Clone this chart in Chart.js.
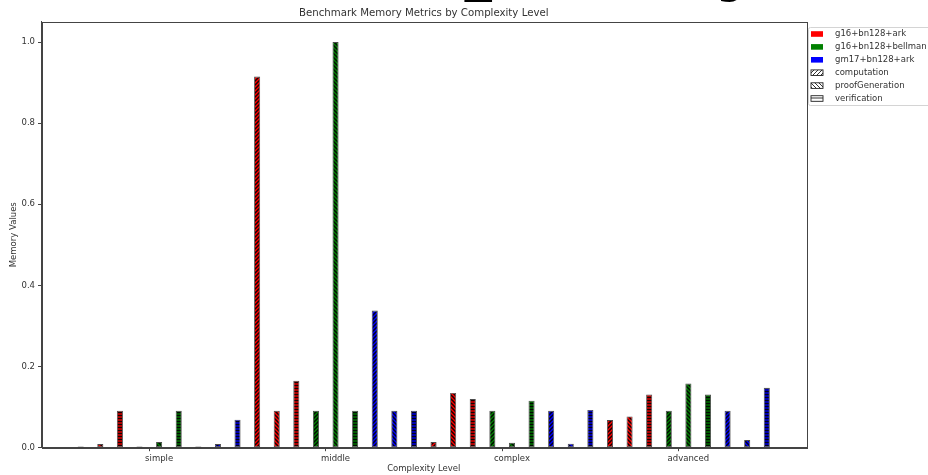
<!DOCTYPE html>
<html>
<head>
<meta charset="utf-8">
<title>Benchmark Memory Metrics by Complexity Level</title>
<script src="https://cdn.jsdelivr.net/npm/chart.js@4.4.1/dist/chart.umd.min.js"></script>
<style>
  html, body { margin: 0; padding: 0; width: 928px; height: 475px; overflow: hidden; background: #fff; }
  #wrap { position: relative; width: 928px; height: 475px; }
  #heading {
    position: absolute; left: 243px; top: -110px; margin: 0;
    font-family: "Liberation Serif", "DejaVu Serif", serif; font-weight: bold;
    font-size: 107px; line-height: 1; color: #000; white-space: nowrap; z-index: 2;
  }
  #chart { position: absolute; left: 0; top: 0; }
</style>
</head>
<body>
<div id="wrap">
  <h1 id="heading">Complexity</h1>
  <canvas id="chart" width="928" height="475"></canvas>
</div>
<script>
// Complexity levels shown along the x axis
const levels = ['simple', 'middle', 'complex', 'advanced'];
// Proving setups (colour) and measured phases (hatch)
const frameworks = ['g16+bn128+ark', 'g16+bn128+bellman', 'gm17+bn128+ark'];
const metrics = ['computation', 'proofGeneration', 'verification'];

// Normalised memory values per setup and phase, one entry per level
const arkComputation         = [0.003, 0.915, 0.014, 0.068];
const arkProofGeneration     = [0.009, 0.091, 0.135, 0.077];
const arkVerification        = [0.091, 0.165, 0.120, 0.131];
const bellmanComputation     = [0.003, 0.091, 0.091, 0.091];
const bellmanProofGeneration = [0.014, 1.000, 0.012, 0.158];
const bellmanVerification    = [0.091, 0.091, 0.116, 0.131];
const gm17Computation        = [0.003, 0.338, 0.091, 0.091];
const gm17ProofGeneration    = [0.009, 0.091, 0.010, 0.019];
const gm17Verification       = [0.069, 0.091, 0.093, 0.148];

// Y axis tick values
const yTicks = [0.0, 0.2, 0.4, 0.6, 0.8, 1.0];

const series = [
  { fw: 0, m: 0, values: arkComputation },
  { fw: 0, m: 1, values: arkProofGeneration },
  { fw: 0, m: 2, values: arkVerification },
  { fw: 1, m: 0, values: bellmanComputation },
  { fw: 1, m: 1, values: bellmanProofGeneration },
  { fw: 1, m: 2, values: bellmanVerification },
  { fw: 2, m: 0, values: gm17Computation },
  { fw: 2, m: 1, values: gm17ProofGeneration },
  { fw: 2, m: 2, values: gm17Verification }
];

const fwColors = ['#ff0000', '#008000', '#0000ff'];
const hatchKinds = ['/', '\\', '-'];

// One slot per bar, with two empty slots of margin on each side
const EDGE = 2;
const PER_LEVEL = series.length;
const slotCount = EDGE * 2 + levels.length * PER_LEVEL;
const slotLabels = new Array(slotCount).fill('');
const centerSlots = new Set();
levels.forEach((name, g) => {
  const idx = EDGE + g * PER_LEVEL + Math.floor(PER_LEVEL / 2);
  slotLabels[idx] = name;
  centerSlots.add(idx);
});

function makeHatch(base, kind, s, ink, width) {
  const c = document.createElement('canvas');
  c.width = s; c.height = s;
  const g = c.getContext('2d');
  g.fillStyle = base;
  g.fillRect(0, 0, s, s);
  g.strokeStyle = ink;
  g.lineWidth = width;
  g.beginPath();
  if (kind === '/') {
    g.moveTo(0, s); g.lineTo(s, 0);
    g.moveTo(-1, 1); g.lineTo(1, -1);
    g.moveTo(s - 1, s + 1); g.lineTo(s + 1, s - 1);
  } else if (kind === '\\') {
    g.moveTo(0, 0); g.lineTo(s, s);
    g.moveTo(s - 1, -1); g.lineTo(s + 1, 1);
    g.moveTo(-1, s - 1); g.lineTo(1, s + 1);
  } else {
    g.moveTo(0, s / 2); g.lineTo(s, s / 2);
  }
  g.stroke();
  return g.createPattern(c, 'repeat');
}

const datasets = series.map((s) => {
  const data = new Array(slotCount).fill(null);
  s.values.forEach((v, g) => { data[EDGE + g * PER_LEVEL + s.fw * 3 + s.m] = v; });
  const flat = s.m === 2;
  return {
    label: frameworks[s.fw] + ' ' + metrics[s.m],
    data,
    backgroundColor: makeHatch(fwColors[s.fw], hatchKinds[s.m], flat ? 3 : 4,
                               'rgba(0,0,0,0.9)', flat ? 1.7 : 1.5),
    borderColor: 'rgba(15,15,15,0.75)',
    borderWidth: 0.9,
    borderSkipped: false,
    barPercentage: 0.31,
    categoryPercentage: 1.0
  };
});

const TEXT = '#333';
const AXIS = '#444';
const FONT = '"DejaVu Sans", "Liberation Sans", sans-serif';

// Top and right spines around the plot area
const framePlugin = {
  id: 'frame',
  afterDatasetsDraw(chart) {
    const { ctx, chartArea: a } = chart;
    ctx.save();
    ctx.strokeStyle = AXIS;
    ctx.lineWidth = 1;
    ctx.strokeRect(Math.round(a.left) + 0.5, Math.round(a.top) + 0.5,
                   Math.round(a.right - a.left), Math.round(a.bottom - a.top));
    ctx.restore();
  }
};

// Legend at the right: colour swatches for setups, hatch swatches for phases
const sideLegendPlugin = {
  id: 'sideLegend',
  afterDraw(chart) {
    const ctx = chart.ctx;
    const x0 = 808, y0 = 27, rowH = 12.9;
    ctx.save();
    ctx.fillStyle = 'rgba(255,255,255,0.85)';
    ctx.strokeStyle = '#d4d4d4';
    ctx.lineWidth = 1;
    ctx.beginPath();
    ctx.roundRect(x0 + 0.5, y0 + 0.5, 140, 78, 2);
    ctx.fill();
    ctx.stroke();
    ctx.font = '8.5px ' + FONT;
    ctx.textBaseline = 'middle';
    const entries = [];
    frameworks.forEach((f, i) => entries.push({ text: f, fill: fwColors[i], solid: true }));
    metrics.forEach((m, i) => entries.push({
      text: m, fill: makeHatch('#ffffff', hatchKinds[i], 4, 'rgba(0,0,0,0.8)', 1), solid: false
    }));
    entries.forEach((e, i) => {
      const cy = y0 + 7 + i * rowH;
      ctx.fillStyle = e.fill;
      ctx.fillRect(811, cy - 2.8, 12, 5.6);
      if (!e.solid) {
        ctx.strokeStyle = '#222';
        ctx.lineWidth = 0.9;
        ctx.strokeRect(811, cy - 2.8, 12, 5.6);
      }
      ctx.fillStyle = TEXT;
      ctx.fillText(e.text, 835, cy);
    });
    ctx.restore();
  }
};

new Chart(document.getElementById('chart'), {
  type: 'bar',
  data: { labels: slotLabels, datasets },
  plugins: [framePlugin, sideLegendPlugin],
  options: {
    responsive: false,
    animation: false,
    layout: { padding: { left: 0, right: 122, top: 0, bottom: 0 } },
    plugins: {
      legend: { display: false },
      tooltip: { enabled: false },
      title: {
        display: true,
        text: 'Benchmark Memory Metrics by Complexity Level',
        fullSize: false,
        color: TEXT,
        font: { family: FONT, size: 10.2, weight: 'normal' },
        padding: { top: 7.4, bottom: 2.1 }
      }
    },
    scales: {
      x: {
        stacked: true,
        offset: false,
        grid: {
          display: true,
          drawOnChartArea: false,
          tickLength: 3.5,
          tickColor: (c) => centerSlots.has(c.index) ? AXIS : 'rgba(0,0,0,0)'
        },
        border: { display: true, color: AXIS, width: 1 },
        ticks: {
          autoSkip: false, maxRotation: 0, minRotation: 0,
          color: TEXT, padding: 2.5,
          font: { family: FONT, size: 8.5 }
        },
        title: {
          display: true, text: 'Complexity Level', color: TEXT,
          font: { family: FONT, size: 8.5 },
          padding: { top: 0, bottom: 1.5 }
        },
        afterFit(scale) { scale.height = 27.3; }
      },
      y: {
        stacked: true,
        min: 0,
        max: 1.05,
        grid: { display: true, drawOnChartArea: false, tickLength: 3.5, tickColor: AXIS },
        border: { display: true, color: AXIS, width: 1 },
        afterBuildTicks(scale) { scale.ticks = yTicks.map((v) => ({ value: v })); },
        ticks: {
          color: TEXT, padding: 3,
          font: { family: FONT, size: 8.5 },
          callback: (v) => Number(v).toFixed(1)
        },
        title: {
          display: true, text: 'Memory Values', color: TEXT,
          font: { family: FONT, size: 8.5 },
          padding: { top: 8.6, bottom: 0 }
        },
        afterFit(scale) { scale.width = 41.5; }
      }
    }
  }
});
</script>
</body>
</html>
